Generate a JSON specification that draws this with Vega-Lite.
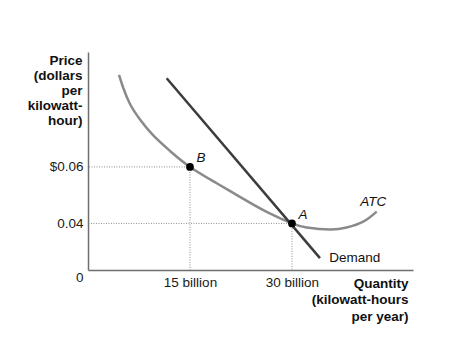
{
  "$schema": "https://vega.github.io/schema/vega-lite/v6.json",
  "autosize": {"type": "none"},
  "width": 325,
  "height": 218,
  "padding": {"left": 88, "top": 52, "right": 56, "bottom": 83},
  "background": "white",
  "config": {
    "view": {"stroke": null},
    "font": "Liberation Sans",
    "axis": {"grid": false, "ticks": false, "domainColor": "#6e6e6e", "domainWidth": 1.5, "labelFont": "Liberation Sans", "labelFontSize": 13.5, "labelColor": "#1a1a1a", "titleFont": "Liberation Sans", "titleFontSize": 13.5, "titleFontWeight": "bold", "titleColor": "#111", "labelFlush": false, "labelOverlap": false, "labelBound": false}
  },
  "datasets": {
    "atc": [
      {"q": 4.56, "p": 0.09257},
      {"q": 5.19, "p": 0.08796},
      {"q": 6.18, "p": 0.0823},
      {"q": 7.65, "p": 0.07681},
      {"q": 9.6, "p": 0.07115},
      {"q": 12.06, "p": 0.06566},
      {"q": 15.0, "p": 0.0600},
      {"q": 18.93, "p": 0.05423},
      {"q": 22.35, "p": 0.04938},
      {"q": 26.28, "p": 0.04407},
      {"q": 30.0, "p": 0.0400},
      {"q": 32.16, "p": 0.03858},
      {"q": 35.59, "p": 0.03788},
      {"q": 38.04, "p": 0.03858},
      {"q": 40.49, "p": 0.04064},
      {"q": 42.46, "p": 0.04418}
    ],
    "demand": [
      {"q": 11.57, "p": 0.0914},
      {"q": 34.12, "p": 0.0277}
    ],
    "points": [
      {"q": 15, "p": 0.06, "label": "B"},
      {"q": 30, "p": 0.04, "label": "A"}
    ],
    "atclabel": [
      {"q": 41.96, "p": 0.0475, "label": "ATC"}
    ],
    "demandlabel": [
      {"q": 35.49, "p": 0.0277, "label": "Demand"}
    ]
  },
  "layer": [
    {
      "data": {"name": "points"},
      "mark": {"type": "rule", "color": "#8c8c8c", "strokeWidth": 1, "strokeDash": [1, 1.5]},
      "encoding": {
        "y": {"field": "p", "type": "quantitative", "scale": {"domain": [0.0235, 0.1007], "nice": false, "zero": false},
          "axis": {"title": ["Price", "(dollars", "per", "kilowatt-", "hour)"], "titleAngle": 0, "titleAlign": "right", "titleBaseline": "alphabetic", "titleX": -6, "titleY": 12, "titleLineHeight": 15.2,
            "values": [0.0235, 0.04, 0.06], "labelPadding": 5,
            "labelExpr": "datum.value < 0.03 ? '0' : (datum.value > 0.05 ? '$0.06' : '0.04')",
            "labelBaseline": {"condition": {"test": "datum.value < 0.03", "value": "top"}, "value": "middle"}}},
        "x": {"field": "q", "type": "quantitative", "scale": {"domain": [0, 47.8], "nice": false, "zero": false},
          "axis": {"title": ["Quantity", "(kilowatt-hours", "per year)"], "titleAlign": "right", "titleAnchor": "start", "titleBaseline": "alphabetic", "titleX": 320, "titleY": 17, "titleLineHeight": 16.5,
            "values": [15, 30], "labelPadding": 5, "labelExpr": "datum.value + ' billion'"}},
        "x2": {"datum": 0}
      }
    },
    {
      "data": {"name": "points"},
      "mark": {"type": "rule", "color": "#8c8c8c", "strokeWidth": 1, "strokeDash": [1, 1.5]},
      "encoding": {
        "x": {"field": "q", "type": "quantitative"},
        "y": {"field": "p", "type": "quantitative"},
        "y2": {"datum": 0.0235}
      }
    },
    {
      "data": {"name": "atc"},
      "mark": {"type": "line", "color": "#8a8a8a", "strokeWidth": 2.5, "interpolate": "natural"},
      "encoding": {
        "x": {"field": "q", "type": "quantitative"},
        "y": {"field": "p", "type": "quantitative"}
      }
    },
    {
      "data": {"name": "demand"},
      "mark": {"type": "line", "color": "#3c3c3c", "strokeWidth": 2.5},
      "encoding": {
        "x": {"field": "q", "type": "quantitative"},
        "y": {"field": "p", "type": "quantitative"}
      }
    },
    {
      "data": {"name": "points"},
      "mark": {"type": "point", "filled": true, "color": "black", "size": 60, "opacity": 1},
      "encoding": {
        "x": {"field": "q", "type": "quantitative"},
        "y": {"field": "p", "type": "quantitative"}
      }
    },
    {
      "data": {"name": "points"},
      "mark": {"type": "text", "font": "Liberation Sans", "fontSize": 13.5, "fontStyle": "italic", "color": "#111", "dx": 11, "dy": -8.5, "align": "center", "baseline": "middle"},
      "encoding": {
        "x": {"field": "q", "type": "quantitative"},
        "y": {"field": "p", "type": "quantitative"},
        "text": {"field": "label"}
      }
    },
    {
      "data": {"name": "atclabel"},
      "mark": {"type": "text", "font": "Liberation Sans", "fontSize": 13.5, "fontStyle": "italic", "color": "#111", "align": "center", "baseline": "middle"},
      "encoding": {
        "x": {"field": "q", "type": "quantitative"},
        "y": {"field": "p", "type": "quantitative"},
        "text": {"field": "label"}
      }
    },
    {
      "data": {"name": "demandlabel"},
      "mark": {"type": "text", "font": "Liberation Sans", "fontSize": 13.5, "color": "#111", "align": "left", "baseline": "middle"},
      "encoding": {
        "x": {"field": "q", "type": "quantitative"},
        "y": {"field": "p", "type": "quantitative"},
        "text": {"field": "label"}
      }
    }
  ]
}
